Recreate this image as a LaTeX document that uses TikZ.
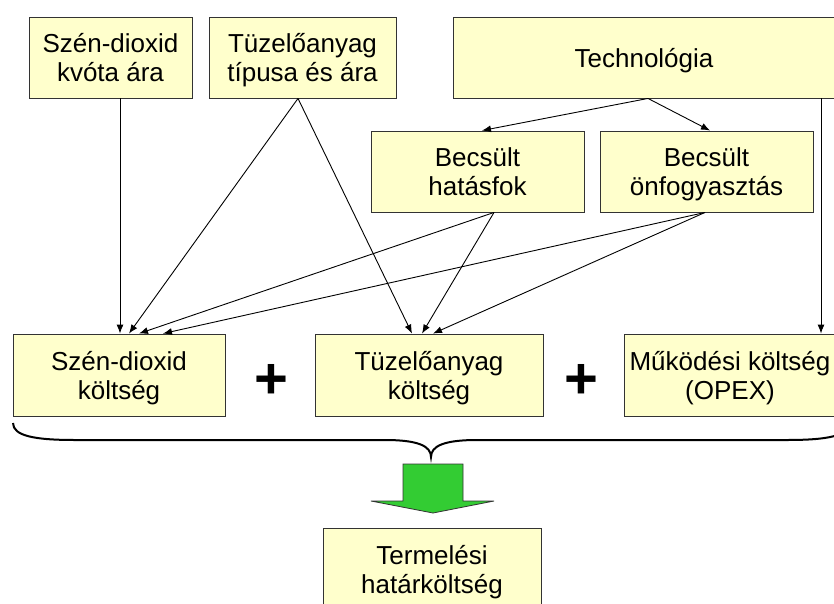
\documentclass[tikz,border=0pt]{standalone}
\usepackage{fontspec}
\setmainfont{Liberation Sans}
\usetikzlibrary{arrows.meta}
\definecolor{boxfill}{HTML}{FFFFCC}
\definecolor{arrowgreen}{HTML}{33CC33}
\newcommand{\boxtxt}[1]{\raisebox{-4pt}[\height][\depth]{\begin{tabular}{@{}c@{}}#1\end{tabular}}}
\begin{document}
\begin{tikzpicture}[x=1pt,y=-1pt,
  box/.style={draw=black!80, line width=0.9pt, fill=boxfill, inner sep=0pt,
    font=\fontsize{26}{29}\selectfont},
  conn/.style={-{Latex[length=9pt,width=7pt]}, line width=0.9pt},
  plussign/.style={font=\fontsize{58}{58}\selectfont\bfseries, inner sep=0pt}]
\useasboundingbox (0,0) rectangle (834,604);
\clip (0,0) rectangle (834,604);
% top row
\node[box, minimum width=163pt, minimum height=81pt] (A) at (110.5,57.5) {\boxtxt{Szén-dioxid\\kvóta ára}};
\node[box, minimum width=187pt, minimum height=81pt] (B) at (302.5,57.5) {\boxtxt{Tüzelőanyag\\típusa és ára}};
\node[box, minimum width=382pt, minimum height=81pt] (T) at (644,57.5) {\boxtxt{Technológia}};
% middle row
\node[box, minimum width=213pt, minimum height=81pt] (H) at (477.5,171.5) {\boxtxt{Becsült\\hatásfok}};
\node[box, minimum width=213pt, minimum height=81pt] (O) at (706.5,171.5) {\boxtxt{Becsült\\önfogyasztás}};
% bottom row
\node[box, minimum width=212pt, minimum height=82pt] (C) at (119,375) {\boxtxt{Szén-dioxid\\költség}};
\node[box, minimum width=228pt, minimum height=82pt] (F) at (429,375) {\boxtxt{Tüzelőanyag\\költség}};
\node[box, minimum width=212pt, minimum height=82pt] (X) at (730,375) {\boxtxt{Működési költség\\(OPEX)}};
\node[plussign] (p1) at (271,381) {+};
\node[plussign] (p2) at (581,381) {+};
% result
\node[box, minimum width=218pt, minimum height=82pt] (R) at (432,569) {\boxtxt{Termelési\\határköltség}};
% connectors
\draw[conn] ([xshift=9.5pt]A.south) -- ([xshift=1pt]C.north);
\draw[conn] ([xshift=-4.5pt]B.south) -- ([xshift=10pt]C.north);
\draw[conn] ([xshift=-4.5pt]B.south) -- ([xshift=-17pt]F.north);
\draw[conn] ([xshift=4pt]T.south) -- ([xshift=4.5pt]H.north);
\draw[conn] ([xshift=4pt]T.south) -- ([xshift=3.5pt]O.north);
\draw[conn] ([xshift=16.5pt]H.south) -- ([xshift=20pt]C.north);
\draw[conn] ([xshift=16.5pt]H.south) -- ([xshift=-7pt]F.north);
\draw[conn] ([xshift=-1.5pt]O.south) -- ([xshift=44pt]C.north);
\draw[conn] ([xshift=-1.5pt]O.south) -- ([xshift=4pt]F.north);
\draw[conn] ([xshift=177pt]T.south) -- ([xshift=91pt]X.north);
% brace
\draw[line width=2pt] (13,423) .. controls (13,436) and (35,440) .. (75,440)
  -- (385,440) .. controls (418,440) and (431,446) .. (431,457)
  .. controls (431,446) and (444,440) .. (477,440)
  -- (787,440) .. controls (827,440) and (849,436) .. (849,423);
% green arrow
\draw[fill=arrowgreen, draw=black!80, line width=0.8pt]
  (403,464) -- (463,464) -- (463,501) -- (494,501) -- (433,513) -- (371,501) -- (403,501) -- cycle;
\end{tikzpicture}
\end{document}
